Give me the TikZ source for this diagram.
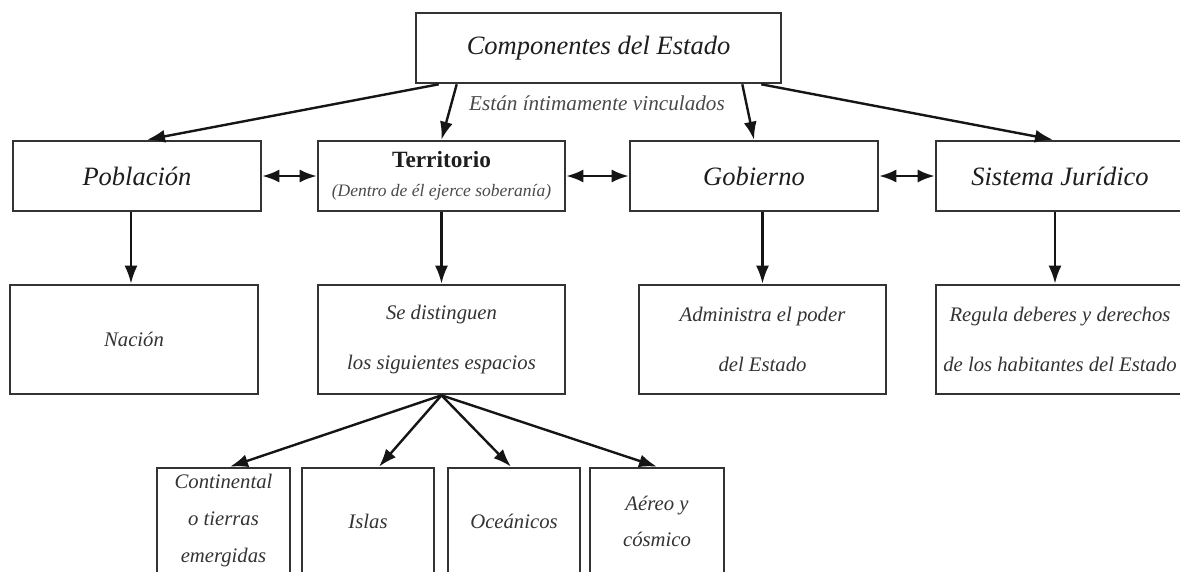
\documentclass[tikz,border=0pt]{standalone}
\usepackage{fontspec}
\setmainfont{Liberation Serif}
\usetikzlibrary{arrows.meta}
\definecolor{boxline}{HTML}{333333}
\definecolor{headtxt}{HTML}{1E1E1E}
\definecolor{bodytxt}{HTML}{333333}
\definecolor{soft}{HTML}{4A4A4A}
\definecolor{arrowcol}{HTML}{151515}
\begin{document}
\begin{tikzpicture}[x=1pt,y=-1pt,
  box/.style={draw=boxline, line width=2.6pt, fill=white, inner sep=0pt, align=center, anchor=center},
  head/.style={box, text=headtxt, font=\fontsize{26.5}{30}\selectfont\itshape, minimum width=248pt, minimum height=70pt},
  body/.style={box, text=bodytxt, font=\fontsize{20.7}{50}\selectfont\itshape, minimum width=248pt, minimum height=109pt},
  small/.style={box, text=bodytxt, font=\fontsize{20.7}{37}\selectfont\itshape, minimum width=133pt, minimum height=106pt},
  arr/.style={-{Latex[length=18pt,width=13pt]}, line width=2.4pt, draw=arrowcol},
  darr/.style={{Latex[length=17pt,width=13pt]}-{Latex[length=17pt,width=13pt]}, line width=2.4pt, draw=arrowcol}]
\useasboundingbox (0,0) rectangle (1180,571);
\fill[white] (0,0) rectangle (1180,571);

% top
\node[head, minimum width=365pt] (top) at (598.5,48) {Componentes del Estado};
\node[font=\fontsize{21.2}{25}\selectfont\itshape, text=soft, inner sep=0pt] (lab) at (597,103) {Están íntimamente vinculados};

% row 1
\node[head] (pob) at (137,176) {Población};
\node[box, minimum width=247pt, minimum height=70pt, text=headtxt, font=\fontsize{17.5}{29}\selectfont] (ter) at (441.5,176)
  {{\fontsize{23.3}{29}\selectfont\bfseries Territorio}\\{\itshape\color{soft}(Dentro de él ejerce soberanía)}};
\node[head] (gob) at (754,176) {Gobierno};
\node[head] (sis) at (1060,176) {Sistema Jurídico};

% row 2
\node[body] (nac) at (134,339.5) {Nación};
\node[body, minimum width=247pt] (sed) at (441.5,339.5) {Se distinguen\\los siguientes espacios};
\node[body, minimum width=247pt] (adm) at (762.5,339.5) {Administra el poder\\del Estado};
\node[body] (reg) at (1060,339.5) {Regula deberes y derechos\\de los habitantes del Estado};

% row 3
\node[small] (con) at (223.5,521) {Continental\\o tierras\\emergidas};
\node[small, minimum width=132pt] (isl) at (368,521) {Islas};
\node[small, minimum width=132pt] (oce) at (514,521) {Oceánicos};
\node[small, minimum width=134pt, font=\fontsize{20.7}{36}\selectfont\itshape] (aer) at (657,521) {Aéreo y\\cósmico};

% arrows from top
\draw[arr] ([xshift=24pt]top.south west) -- ([xshift=10pt]pob.north);
\draw[arr] ([xshift=42pt]top.south west) -- (ter.north);
\draw[arr] ([xshift=-40pt]top.south east) -- (gob.north);
\draw[arr] ([xshift=-21pt]top.south east) -- ([xshift=-7pt]sis.north);

% horizontal double arrows
\draw[darr] (pob.east) -- (ter.west);
\draw[darr] (ter.east) -- (gob.west);
\draw[darr] (gob.east) -- (sis.west);

% down arrows
\draw[arr] ([xshift=-6pt]pob.south) -- ([xshift=-6pt]pob.south |- nac.north);
\draw[arr] (ter.south) -- (sed.north);
\draw[arr] (gob.south -| adm.north) -- (adm.north);
\draw[arr] ([xshift=-5pt]sis.south) -- ([xshift=-5pt]reg.north);

% arrows to spaces
\draw[arr] (sed.south) -- ([xshift=6.5pt]con.north);
\draw[arr] (sed.south) -- ([xshift=11pt]isl.north);
\draw[arr] (sed.south) -- ([xshift=-3pt]oce.north);
\draw[arr] (sed.south) -- (aer.north);
\end{tikzpicture}
\end{document}
